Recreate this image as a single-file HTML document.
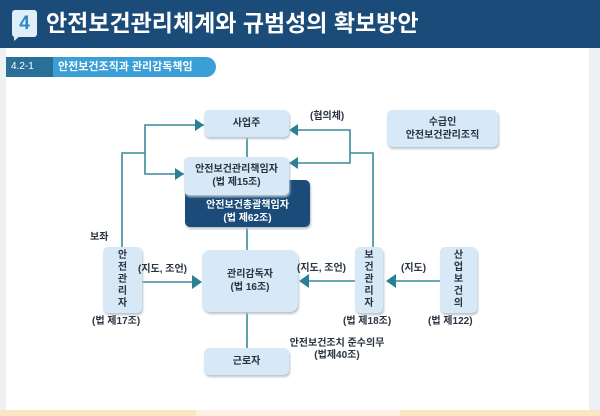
<!DOCTYPE html>
<html><head><meta charset="utf-8"><style>
*{margin:0;padding:0;box-sizing:border-box}
body{width:600px;height:416px;position:relative;overflow:hidden;background:#eef1f4;font-family:"Liberation Sans","Noto Sans CJK KR",sans-serif}
.a{position:absolute}
.hdr{left:0;top:0;width:600px;height:48px;background:#1b4b79}
.panel{left:6px;top:48px;width:583px;height:362px;background:#fff}
.box{position:absolute;background:#d7e8f6;border-radius:5px;box-shadow:1px 2px 2px #b8c4ce;color:#2a3440;font-size:10px;font-weight:bold;text-align:center;display:flex;align-items:center;justify-content:center;line-height:13px}
.v{flex-direction:column;line-height:12px}
.t{position:absolute;font-size:10px;font-weight:bold;color:#2a3440;white-space:nowrap;line-height:12px}
</style></head><body>
<div class="a hdr"></div>
<div class="a panel"></div>
<div class="a" style="left:0;top:410px;width:600px;height:6px;background:#fbe6c2"></div>
<div class="a" style="left:196px;top:410px;width:204px;height:6px;background:#fdf1e0"></div>
<div class="a" style="left:12px;top:10px;width:25px;height:27px;background:#dfeef8;border-radius:3px;color:#2f88c0;font-weight:bold;font-size:19px;text-align:center;line-height:27px">4</div>
<div class="a" style="left:14px;top:36px;width:0;height:0;border-left:6px solid #dfeef8;border-bottom:5px solid transparent"></div>
<div class="a" style="left:46px;top:8px;color:#fff;font-size:23px;font-weight:bold;line-height:30px;white-space:nowrap">안전보건관리체계와 규범성의 확보방안</div>
<div class="a" style="left:6px;top:57px;width:210px;height:20px;background:#3a9fd6;border-radius:0 10px 10px 0"></div>
<div class="a" style="left:6px;top:57px;width:47px;height:20px;background:#2a6f98"></div>
<div class="a" style="left:11px;top:60px;color:#fff;font-size:10px;line-height:14px">4.2-1</div>
<div class="a" style="left:58px;top:59px;color:#fff;font-size:11px;font-weight:bold;line-height:16px;white-space:nowrap">안전보건조직과 관리감독책임</div>

<svg class="a" style="left:0;top:0" width="600" height="416">
<g stroke="#3a8a9c" stroke-width="1.6" fill="none">
<polyline points="204,125 145,125 145,174 184,174"/>
<polyline points="122,247 122,153 145,153"/>
<polyline points="289,130 350,130 350,163 289,163"/>
<polyline points="373,247 373,153 350,153" />
<line x1="247" y1="137" x2="247" y2="157"/>
<line x1="247" y1="227" x2="247" y2="250"/>
<line x1="247" y1="312" x2="247" y2="349"/>
<line x1="142" y1="282" x2="193" y2="282"/>
<line x1="355" y1="281" x2="305" y2="281"/>
<line x1="440" y1="281" x2="392" y2="281"/>
</g>
<g fill="#2b8094">
<polygon points="204,125 195,119 195,131"/>
<polygon points="184,174 175,168 175,180"/>
<polygon points="289,130 298,124 298,136"/>
<polygon points="289,163 298,157 298,169"/>
<polygon points="202,282 192,275 192,289"/>
<polygon points="299,281 309,274 309,288"/>
<polygon points="386,281 396,274 396,288"/>
</g>
</svg>

<div class="box" style="left:204px;top:110px;width:85px;height:27px">사업주</div>
<div class="box" style="left:387px;top:110px;width:111px;height:37px">수급인<br>안전보건관리조직</div>
<div class="box" style="left:185px;top:180px;width:125px;height:47px;background:#1b4b79;color:#fff;padding-top:16px">안전보건총괄책임자<br>(법 제62조)</div>
<div class="box" style="left:184px;top:157px;width:105px;height:38px">안전보건관리책임자<br>(법 제15조)</div>
<div class="box v" style="left:103px;top:247px;width:39px;height:66px">안<br>전<br>관<br>리<br>자</div>
<div class="box" style="left:202px;top:250px;width:96px;height:62px;border-radius:8px">관리감독자<br>(법 16조)</div>
<div class="box v" style="left:355px;top:247px;width:28px;height:66px">보<br>건<br>관<br>리<br>자</div>
<div class="box v" style="left:440px;top:247px;width:37px;height:66px">산<br>업<br>보<br>건<br>의</div>
<div class="box" style="left:204px;top:348px;width:85px;height:27px">근로자</div>

<div class="t" style="left:310px;top:111px">(협의체)</div>
<div class="t" style="left:90px;top:232px">보좌</div>
<div class="t" style="left:138px;top:264px">(지도, 조언)</div>
<div class="t" style="left:297px;top:263px">(지도, 조언)</div>
<div class="t" style="left:401px;top:263px">(지도)</div>
<div class="t" style="left:92px;top:316px">(법 제17조)</div>
<div class="t" style="left:343px;top:316px">(법 제18조)</div>
<div class="t" style="left:428px;top:316px">(법 제122)</div>
<div class="t" style="left:287px;top:338px;text-align:center;width:100px">안전보건조치 준수의무<br>(법제40조)</div>
</body></html>
